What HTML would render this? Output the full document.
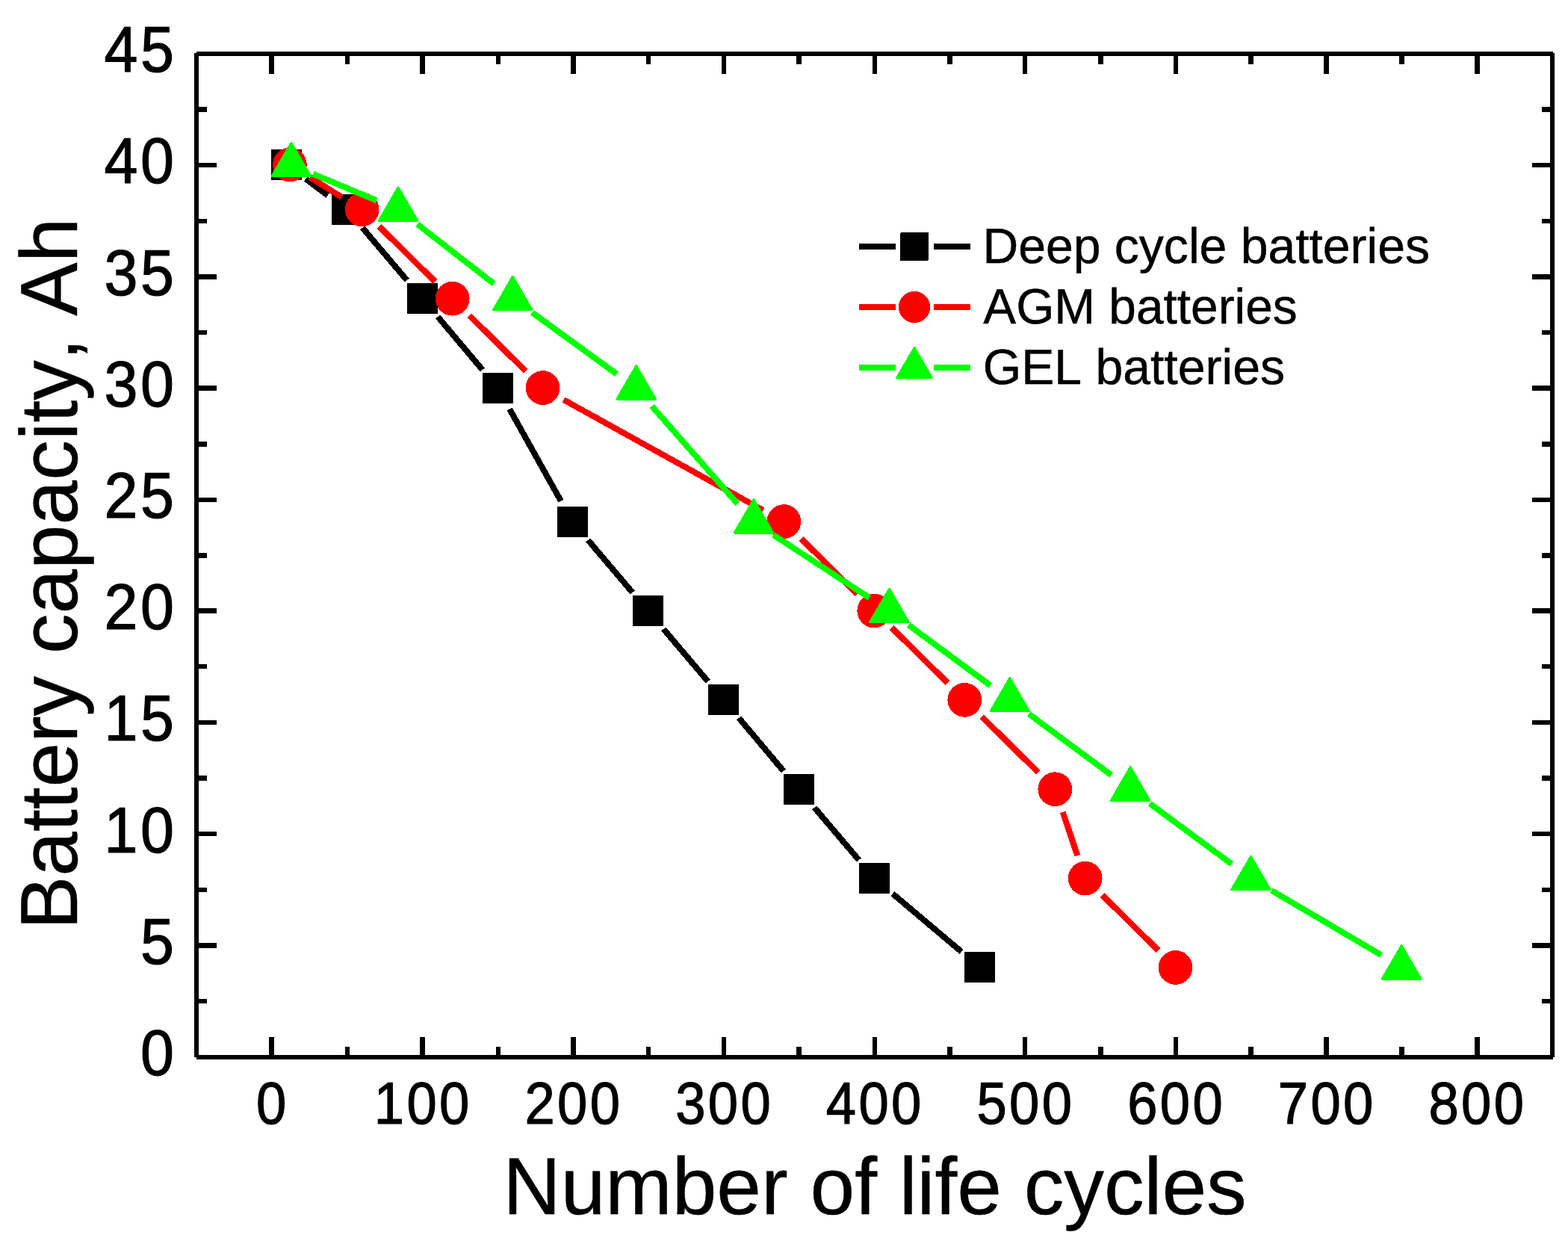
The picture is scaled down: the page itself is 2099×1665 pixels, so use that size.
<!DOCTYPE html>
<html lang="en">
<head>
<meta charset="utf-8">
<title>Battery capacity vs number of life cycles</title>
<style>
html,body{margin:0;padding:0;background:#ffffff;}
body{width:2099px;height:1665px;overflow:hidden;}
svg{display:block;}
text{font-family:"Liberation Sans",sans-serif;fill:#000000;font-kerning:none;font-variant-ligatures:none;text-rendering:geometricPrecision;stroke:#000000;stroke-width:0.5px;stroke-linejoin:round;}
.yt text{font-size:83.33px;letter-spacing:3.66px;stroke-width:1.2px;}
.xt text{font-size:77px;letter-spacing:3.6px;stroke-width:1.2px;}
.ttl{font-size:108.33px;}
.lg{font-size:66.67px;}
</style>
</head>
<body>
<svg width="2099" height="1665" viewBox="0 0 2099 1665" role="img" aria-label="Battery capacity versus number of life cycles">
<rect x="0" y="0" width="2099" height="1665" fill="#ffffff"/>
<g id="axes" fill="#000000" shape-rendering="crispEdges">
<rect x="260" y="71" width="6" height="1344"/>
<rect x="2075" y="71" width="6" height="1344"/>
<rect x="263" y="69" width="1816" height="6"/>
<rect x="263" y="1412" width="1816" height="6"/>
<rect x="360" y="1388" width="7" height="27"/>
<rect x="360" y="72" width="7" height="27"/>
<rect x="462" y="1401" width="6" height="14"/>
<rect x="462" y="72" width="6" height="14"/>
<rect x="562" y="1388" width="7" height="27"/>
<rect x="562" y="72" width="7" height="27"/>
<rect x="664" y="1401" width="6" height="14"/>
<rect x="664" y="72" width="6" height="14"/>
<rect x="764" y="1388" width="7" height="27"/>
<rect x="764" y="72" width="7" height="27"/>
<rect x="865" y="1401" width="6" height="14"/>
<rect x="865" y="72" width="6" height="14"/>
<rect x="966" y="1388" width="6" height="27"/>
<rect x="966" y="72" width="6" height="27"/>
<rect x="1066" y="1401" width="7" height="14"/>
<rect x="1066" y="72" width="7" height="14"/>
<rect x="1168" y="1388" width="6" height="27"/>
<rect x="1168" y="72" width="6" height="27"/>
<rect x="1268" y="1401" width="7" height="14"/>
<rect x="1268" y="72" width="7" height="14"/>
<rect x="1369" y="1388" width="6" height="27"/>
<rect x="1369" y="72" width="6" height="27"/>
<rect x="1470" y="1401" width="7" height="14"/>
<rect x="1470" y="72" width="7" height="14"/>
<rect x="1571" y="1388" width="6" height="27"/>
<rect x="1571" y="72" width="6" height="27"/>
<rect x="1671" y="1401" width="7" height="14"/>
<rect x="1671" y="72" width="7" height="14"/>
<rect x="1772" y="1388" width="7" height="27"/>
<rect x="1772" y="72" width="7" height="27"/>
<rect x="1873" y="1401" width="7" height="14"/>
<rect x="1873" y="72" width="7" height="14"/>
<rect x="1974" y="1388" width="7" height="27"/>
<rect x="1974" y="72" width="7" height="27"/>
<rect x="263" y="1337" width="14" height="6"/>
<rect x="2064" y="1337" width="14" height="6"/>
<rect x="263" y="1262" width="27" height="7"/>
<rect x="2051" y="1262" width="27" height="7"/>
<rect x="263" y="1188" width="14" height="6"/>
<rect x="2064" y="1188" width="14" height="6"/>
<rect x="263" y="1113" width="27" height="6"/>
<rect x="2051" y="1113" width="27" height="6"/>
<rect x="263" y="1038" width="14" height="7"/>
<rect x="2064" y="1038" width="14" height="7"/>
<rect x="263" y="964" width="27" height="6"/>
<rect x="2051" y="964" width="27" height="6"/>
<rect x="263" y="889" width="14" height="6"/>
<rect x="2064" y="889" width="14" height="6"/>
<rect x="263" y="814" width="27" height="7"/>
<rect x="2051" y="814" width="27" height="7"/>
<rect x="263" y="740" width="14" height="7"/>
<rect x="2064" y="740" width="14" height="7"/>
<rect x="263" y="666" width="27" height="6"/>
<rect x="2051" y="666" width="27" height="6"/>
<rect x="263" y="591" width="14" height="7"/>
<rect x="2064" y="591" width="14" height="7"/>
<rect x="263" y="516" width="27" height="7"/>
<rect x="2051" y="516" width="27" height="7"/>
<rect x="263" y="442" width="14" height="6"/>
<rect x="2064" y="442" width="14" height="6"/>
<rect x="263" y="367" width="27" height="7"/>
<rect x="2051" y="367" width="27" height="7"/>
<rect x="263" y="293" width="14" height="6"/>
<rect x="2064" y="293" width="14" height="6"/>
<rect x="263" y="218" width="27" height="6"/>
<rect x="2051" y="218" width="27" height="6"/>
<rect x="263" y="143" width="14" height="7"/>
<rect x="2064" y="143" width="14" height="7"/>
</g>
<g id="y-tick-labels" class="yt">
<text transform="translate(187.95,1438.5) scale(0.97,1.04)">0</text>
<text transform="translate(187.95,1289.88) scale(0.97,1.04)">5</text>
<text transform="translate(139.44,1140.86) scale(0.97,1.04)">10</text>
<text transform="translate(139.44,990.83) scale(0.97,1.04)">15</text>
<text transform="translate(139.44,841.61) scale(0.97,1.04)">20</text>
<text transform="translate(139.44,692.99) scale(0.97,1.04)">25</text>
<text transform="translate(139.44,544.17) scale(0.97,1.04)">30</text>
<text transform="translate(139.44,394.64) scale(0.97,1.04)">35</text>
<text transform="translate(139.44,244.72) scale(0.97,1.04)">40</text>
<text transform="translate(139.44,95.5) scale(0.97,1.04)">45</text>
</g>
<g id="x-tick-labels" class="xt">
<text transform="translate(343,1503.5) scale(0.94,1.03)">0</text>
<text transform="translate(500.8,1503.5) scale(0.94,1.03)">100</text>
<text transform="translate(702.46,1503.5) scale(0.94,1.03)">200</text>
<text transform="translate(904.13,1503.5) scale(0.94,1.03)">300</text>
<text transform="translate(1105.8,1503.5) scale(0.94,1.03)">400</text>
<text transform="translate(1307.46,1503.5) scale(0.94,1.03)">500</text>
<text transform="translate(1509.13,1503.5) scale(0.94,1.03)">600</text>
<text transform="translate(1710.8,1503.5) scale(0.94,1.03)">700</text>
<text transform="translate(1912.46,1503.5) scale(0.94,1.03)">800</text>
</g>
<text class="ttl" id="x-title" x="673.2" y="1625.4" textLength="995.5" lengthAdjust="spacingAndGlyphs">Number of life cycles</text>
<text class="ttl" id="y-title" transform="translate(103.1,1244.1) rotate(-90)" textLength="952.4" lengthAdjust="spacingAndGlyphs">Battery capacity, Ah</text>
<g id="series-deep-cycle" fill="#000000" stroke="#000000" stroke-width="0" shape-rendering="crispEdges">
<path d="M409.21 239.55L438.79 261.45M485.21 304.9L544.79 375.1M586.11 423.98L645.89 495.02M682.11 547.44L750.89 670.56M787.21 722.9L846.79 793.1M888.21 841.9L947.79 912.1M989.11 960.98L1048.89 1032.02M1090.21 1080.9L1149.79 1151.1M1194.95 1196.14L1287.05 1273.86" fill="none" stroke-width="8" stroke-linecap="butt"/>
<rect x="363" y="200" width="41" height="41"/>
<rect x="444" y="260" width="41" height="41"/>
<rect x="545" y="379" width="41" height="41"/>
<rect x="646" y="499" width="41" height="41"/>
<rect x="746" y="678" width="41" height="41"/>
<rect x="847" y="797" width="41" height="41"/>
<rect x="948" y="916" width="41" height="41"/>
<rect x="1049" y="1036" width="41" height="41"/>
<rect x="1150" y="1155" width="41" height="41"/>
<rect x="1291" y="1274" width="41" height="41"/>
</g>
<g id="series-agm" fill="#ff0000" stroke="#ff0000" stroke-width="0" shape-rendering="crispEdges">
<path d="M414.71 237.33L457.29 263.67M507.32 302.94L582.68 377.06M628.22 422.03L703.78 496.97M754.49 535.01L1021.51 682.99M1072.32 720.94L1147.68 795.06M1193.32 839.94L1268.68 914.06M1314.22 959.03L1389.78 1033.97M1422.7 1086.83L1442.3 1145.17M1475.32 1197.94L1550.68 1272.06" fill="none" stroke-width="8" stroke-linecap="butt"/>
<circle cx="387.83" cy="220.57" r="22.9"/>
<circle cx="484.63" cy="280.26" r="22.9"/>
<circle cx="605.63" cy="399.64" r="22.9"/>
<circle cx="726.63" cy="519.02" r="22.9"/>
<circle cx="1049.3" cy="698.08" r="22.9"/>
<circle cx="1170.3" cy="817.46" r="22.9"/>
<circle cx="1291.3" cy="936.84" r="22.9"/>
<circle cx="1412.3" cy="1056.22" r="22.9"/>
<circle cx="1452.63" cy="1175.59" r="22.9"/>
<circle cx="1573.63" cy="1294.97" r="22.9"/>
</g>
<g id="series-gel" fill="#00ff00" stroke="#00ff00" stroke-width="0" shape-rendering="crispEdges">
<path d="M419.04 232.81L503.96 268.19M558.76 300.15L661.24 379.85M712.38 418.32L825.62 500.68M872.6 543.56L987.4 674.44M1035.28 716.01L1163.72 799.99M1216.23 836.52L1325.77 917.48M1377.21 955.55L1487.79 1037.45M1539.23 1075.52L1648.77 1156.48M1702.07 1191.74L1848.93 1278.26" fill="none" stroke-width="8" stroke-linecap="butt"/>
<polygon points="389.85,191.27 415.65,235.67 364.05,235.67" stroke-width="3" stroke-linejoin="round"/>
<polygon points="533.03,250.96 558.83,295.36 507.23,295.36" stroke-width="3" stroke-linejoin="round"/>
<polygon points="686.3,370.34 712.1,414.74 660.5,414.74" stroke-width="3" stroke-linejoin="round"/>
<polygon points="851.67,489.72 877.47,534.12 825.87,534.12" stroke-width="3" stroke-linejoin="round"/>
<polygon points="1008.97,668.78 1034.77,713.18 983.17,713.18" stroke-width="3" stroke-linejoin="round"/>
<polygon points="1190.47,788.16 1216.27,832.56 1164.67,832.56" stroke-width="3" stroke-linejoin="round"/>
<polygon points="1351.8,907.54 1377.6,951.94 1326,951.94" stroke-width="3" stroke-linejoin="round"/>
<polygon points="1513.13,1026.92 1538.93,1071.32 1487.33,1071.32" stroke-width="3" stroke-linejoin="round"/>
<polygon points="1674.47,1146.29 1700.27,1190.69 1648.67,1190.69" stroke-width="3" stroke-linejoin="round"/>
<polygon points="1876.13,1265.67 1901.93,1310.07 1850.33,1310.07" stroke-width="3" stroke-linejoin="round"/>
</g>
<g id="legend" shape-rendering="crispEdges">
<g fill="#000000" stroke="#000000" stroke-width="0">
<path d="M1150 330H1199M1250 330H1299" fill="none" stroke-width="8"/>
<rect x="1205" y="311" width="38" height="38" rx="2"/>
</g>
<text class="lg" x="1315.5" y="352" textLength="598.55" lengthAdjust="spacingAndGlyphs">Deep cycle batteries</text>
<g fill="#ff0000" stroke="#ff0000" stroke-width="0">
<path d="M1150 411H1199M1250 411H1299" fill="none" stroke-width="8"/>
<circle cx="1224" cy="411" r="21.15"/>
</g>
<text class="lg" x="1316.3" y="432.8" textLength="420.3" lengthAdjust="spacingAndGlyphs">AGM batteries</text>
<g fill="#00ff00" stroke="#00ff00" stroke-width="0">
<path d="M1150 492H1199M1250 492H1299" fill="none" stroke-width="8"/>
<polygon points="1224,465.24 1247.48,505.64 1200.52,505.64" stroke-width="2.73" stroke-linejoin="round"/>
</g>
<text class="lg" x="1315.8" y="513.8" textLength="404.2" lengthAdjust="spacingAndGlyphs">GEL batteries</text>
</g>
</svg>
</body>
</html>
